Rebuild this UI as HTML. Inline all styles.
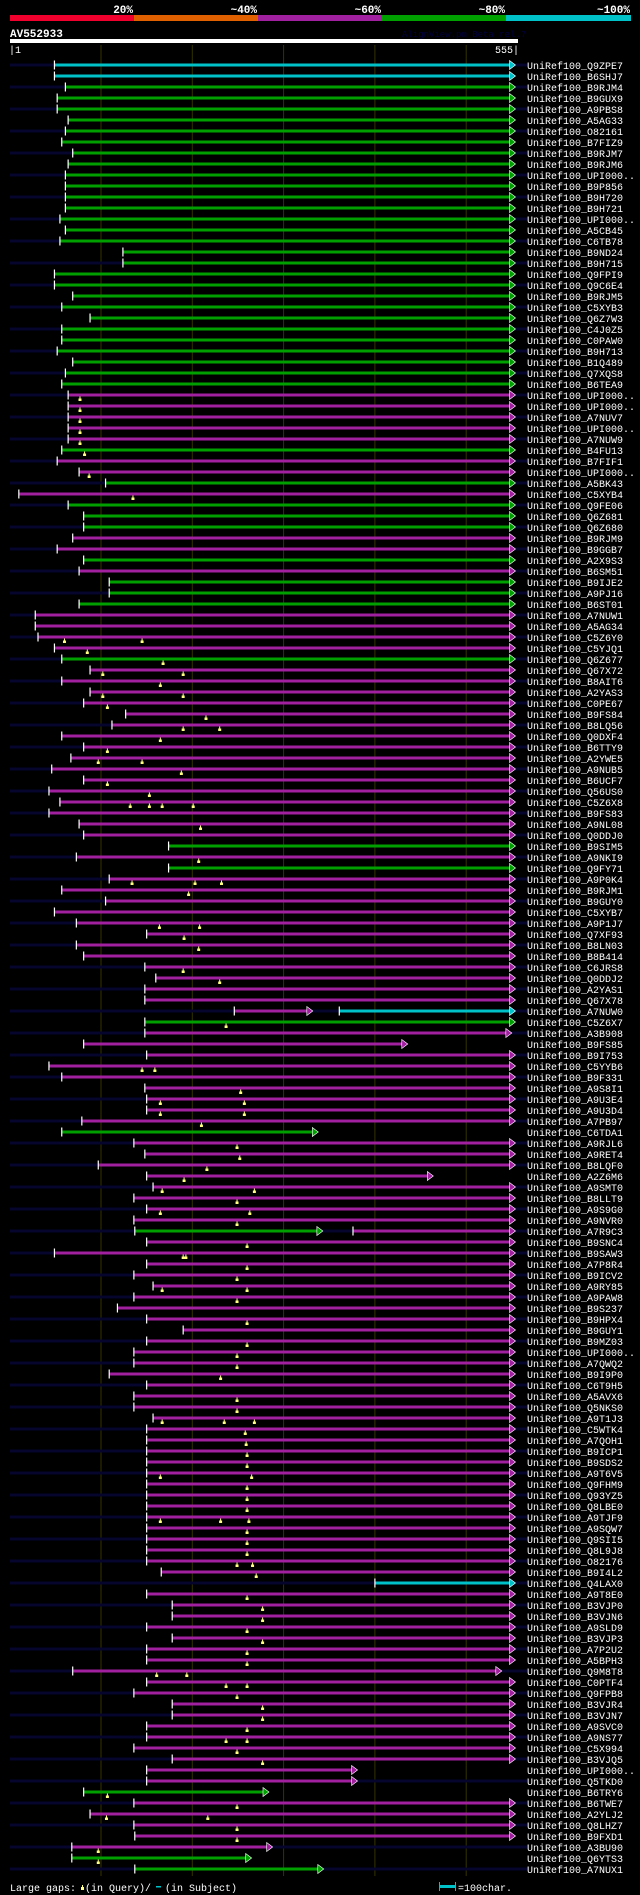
<!DOCTYPE html>
<html><head><meta charset="utf-8"><title>AV552933 alignment</title>
<style>
html,body{margin:0;padding:0;background:#000;}
svg{display:block;}
text{font-family:"Liberation Mono","DejaVu Sans Mono",monospace;}
</style></head>
<body>
<svg id="chart" xmlns="http://www.w3.org/2000/svg" width="640" height="1895" viewBox="0 0 640 1895">
<rect x="0" y="0" width="640" height="1895" fill="#000"/>
<g id="header">
  <rect x="10" y="15" width="124" height="6" fill="#f0002c"/>
  <rect x="134" y="15" width="124" height="6" fill="#e06000"/>
  <rect x="258" y="15" width="124" height="6" fill="#a020a0"/>
  <rect x="382" y="15" width="124" height="6" fill="#00a000"/>
  <rect x="506" y="15" width="125" height="6" fill="#00c0c8"/>
  <text x="133" y="13" fill="#fff" font-size="11" font-weight="bold" text-anchor="end">20%</text>
  <text x="257" y="13" fill="#fff" font-size="11" font-weight="bold" text-anchor="end">~40%</text>
  <text x="381" y="13" fill="#fff" font-size="11" font-weight="bold" text-anchor="end">~60%</text>
  <text x="505" y="13" fill="#fff" font-size="11" font-weight="bold" text-anchor="end">~80%</text>
  <text x="630" y="13" fill="#fff" font-size="11" font-weight="bold" text-anchor="end">~100%</text>
  <text x="10" y="37" fill="#fff" font-size="11" font-weight="bold">AV552933</text>
  <text x="402" y="37" fill="#000040" font-size="9">AlignView.pm Beta rel.7</text>
  <rect x="10" y="39" width="508" height="4" fill="#fff"/>
  <text x="9" y="53" fill="#fff" font-size="10">|1</text>
  <text x="519" y="53" fill="#fff" font-size="10" text-anchor="end">555|</text>
</g>
<g id="grid"></g>
<g id="rows"></g>
<g id="legend">
  <text x="10" y="1891" fill="#fff" font-size="10">Large gaps:</text>
  <rect x="81" y="1887" width="3" height="3" fill="#ffff80"/>
  <rect x="82" y="1885" width="1" height="2" fill="#ffff80"/>
  <text x="85" y="1891" fill="#fff" font-size="10">(in Query)/</text>
  <rect x="156" y="1886" width="5" height="1.5" fill="#00c0c8"/>
  <text x="165" y="1891" fill="#fff" font-size="10">(in Subject)</text>
  <rect x="439" y="1885" width="16" height="3" fill="#00c0c8"/>
  <rect x="439" y="1882" width="1" height="9" fill="#888"/>
  <rect x="455" y="1882" width="1" height="9" fill="#888"/>
  <text x="458" y="1891" fill="#fff" font-size="10">=100char.</text>
</g>
</svg>
<script>
const gridTicks = [100, 200, 300, 400, 500];
const names = ["Q9ZPE7","B6SHJ7","B9RJM4","B9GUX9","A9PBS8","A5AG33","O82161","B7FIZ9","B9RJM7","B9RJM6",
"UPI000..","B9P856","B9H720","B9H721","UPI000..","A5CB45","C6TB78","B9ND24","B9H715","Q9FPI9",
"Q9C6E4","B9RJM5","C5XYB3","Q6Z7W3","C4J0Z5","C0PAW0","B9H713","B1Q489","Q7XQS8","B6TEA9",
"UPI000..","UPI000..","A7NUV7","UPI000..","A7NUW9","B4FU13","B7FIF1","UPI000..","A5BK43","C5XYB4",
"Q9FE06","Q6Z681","Q6Z680","B9RJM9","B9GGB7","A2X9S3","B6SM51","B9IJE2","A9PJ16","B6ST01",
"A7NUW1","A5AG34","C5Z6Y0","C5YJQ1","Q6Z677","Q67X72","B8AIT6","A2YAS3","C0PE67","B9FS84",
"B8LQ56","Q0DXF4","B6TTY9","A2YWE5","A9NUB5","B6UCF7","Q56US0","C5Z6X8","B9FS83","A9NL08",
"Q0DDJ0","B9SIM5","A9NKI9","Q9FY71","A9P0K4","B9RJM1","B9GUY0","C5XYB7","A9P1J7","Q7XF93",
"B8LN03","B8B414","C6JRS8","Q0DDJ2","A2YAS1","Q67X78","A7NUW0","C5Z6X7","A3B908","B9FS85",
"B9I753","C5YYB6","B9F331","A9S8I1","A9U3E4","A9U3D4","A7PB97","C6TDA1","A9RJL6","A9RET4",
"B8LQF0","A2Z6M6","A9SMT0","B8LLT9","A9S9G0","A9NVR0","A7R9C3","B9SNC4","B9SAW3","A7P8R4",
"B9ICV2","A9RY85","A9PAW8","B9S237","B9HPX4","B9GUY1","B9MZ03","UPI000..","A7QWQ2","B9I9P0",
"C6T9H5","A5AVX6","Q5NKS0","A9T1J3","C5WTK4","A7QOH1","B9ICP1","B9SDS2","A9T6V5","Q9FHM9",
"Q93YZ5","Q8LBE0","A9TJF9","A9SQW7","Q9SII5","Q8L9J8","O82176","B9I4L2","Q4LAX0","A9T8E0",
"B3VJP0","B3VJN6","A9SLD9","B3VJP3","A7P2U2","A5BPH3","Q9M8T8","C0PTF4","Q9FPB8","B3VJR4",
"B3VJN7","A9SVC0","A9NS77","C5X994","B3VJQ5","UPI000..","Q5TKD0","B6TRY6","B6TWE7","A2YLJ2",
"Q8LHZ7","B9FXD1","A3BU90","Q6YTS3","A7NUX1"];
const startRes = [49,49,61,52,52,64,61,57,69,64,
61,61,61,61,55,61,55,124,124,49,
49,69,57,88,57,57,52,69,61,57,
64,64,64,64,64,57,52,76,105,10,
64,81,81,69,52,81,76,109,109,76,
28,28,31,49,57,88,57,88,81,127,
112,57,81,67,46,81,43,55,43,76,
81,174,73,174,109,57,105,49,73,150,
73,81,148,160,148,148,246,148,148,81,
150,43,57,148,150,150,79,57,136,148,
97,150,157,136,150,136,137,150,49,150,
136,157,136,118,150,190,150,136,136,109,
150,136,136,157,150,150,150,150,150,150,
150,150,150,150,150,150,150,166,400,150,
178,178,150,178,150,150,69,150,136,178,
178,150,150,136,178,150,150,81,136,88,
136,137,68,68,137];
const fullEnd = 554;
const endOverrides = {87:332, 89:550, 90:436, 98:338, 102:464, 107:343, 147:539, 156:381, 157:381, 158:284, 163:288, 164:265, 165:344};
const colorRuns = [["c",2],["g",28],["m",5],["g",1],["m",2],["g",1],["m",1],["g",3],["m",2],["g",1],["m",1],["g",3],["m",4],["g",1],["m",16],["g",1],["m",1],["g",1],["m",13],["g",1],["m",9],["g",1],["m",8],["g",1],["m",31],["c",1],["m",18],["g",1],["m",5],["g",2]];
const secondSegments = {87:[361,554,"c"], 107:[376,554,"m"]};
const queryGaps = {31:[77],32:[77],33:[77],34:[77],35:[77],36:[82],38:[87],40:[135],53:[60,145],54:[85],
55:[168],56:[102,190],57:[165],58:[102,190],59:[107],60:[215],61:[190,230],62:[165],63:[107],64:[97,145],
65:[188],66:[107],67:[153],68:[132,153,167,201],70:[209],73:[207],75:[134,203,232],76:[196],79:[164,208],80:[191],
81:[207],83:[190],84:[230],88:[237],92:[145,159],94:[253],95:[165,257],96:[165,257],97:[210],99:[249],
100:[252],101:[216],102:[191],103:[167,268],104:[249],105:[165,263],106:[249],108:[260],109:[190,193],110:[260],
111:[249],112:[167,260],113:[249],115:[260],117:[260],118:[249],119:[249],120:[231],122:[249],123:[249],
124:[167,235,268],125:[258],126:[259],127:[260],128:[260],129:[165,265],130:[260],131:[260],132:[260],133:[165,231,262],
134:[260],135:[260],136:[260],137:[249,266],138:[270],140:[260],141:[277],142:[277],143:[260],144:[277],
145:[260],146:[260],147:[161,194],148:[237,260],149:[249],150:[277],151:[277],152:[260],153:[237,260],154:[249],
155:[277],158:[107],159:[249],160:[106,217],161:[249],162:[249],163:[97],164:[97]};

const NS = "http://www.w3.org/2000/svg";
const palette = {c:"#00c0c8", g:"#00a000", m:"#a020a0"};
function xScale(res){ return 9.7 + res * 0.913; }
function yRow(i){ return 65 + i * 11; }
function mk(tag, attrs, parent){
  const el = document.createElementNS(NS, tag);
  for (const k in attrs) el.setAttribute(k, attrs[k]);
  parent.appendChild(el);
  return el;
}
const colors = [];
colorRuns.forEach(function(r){ for (let k = 0; k < r[1]; k++) colors.push(r[0]); });

const grid = document.getElementById('grid');
gridTicks.forEach(function(t){
  const l = mk('rect', {x: xScale(t) - 0.5, y: 45, width: 1, height: 1831, fill: '#333300'}, grid);
  
  
});

const rowsG = document.getElementById('rows');
function drawSeg(g, s, e, col, y){
  const xs = xScale(s), xe = xScale(e);
  const bar = mk('rect', {x: xs, y: y - 1.5, width: Math.max(0, xe - 6 - xs), height: 3, fill: palette[col]}, g);
  
  
  const arrow = mk('polygon', {points: (xe-6)+','+(y-4.5)+' '+xe+','+y+' '+(xe-6)+','+(y+4.5), fill: palette[col], stroke: '#fff', 'stroke-width': 0.6}, g);
  
  
  const tick = mk('rect', {x: xs - 0.6, y: y - 4.5, width: 1.2, height: 9, fill: '#fff'}, g);
  
  
}
names.forEach(function(nm, i){
  const r = i + 1;
  const y = yRow(i);
  const g = mk('g', {}, rowsG);
  
  
  if (i % 2 === 0) {
    const bg = mk('rect', {x: 10, y: y - 1.5, width: 517, height: 3, fill: '#05052e'}, g);
    
    
  }
  const e = endOverrides[r] !== undefined ? endOverrides[r] : fullEnd;
  drawSeg(g, startRes[i], e, colors[i], y);
  if (secondSegments[r]) {
    const sg = secondSegments[r];
    drawSeg(g, sg[0], sg[1], sg[2], y);
  }
  (queryGaps[r] || []).forEach(function(q){
    const qx = xScale(q);
    const m1 = mk('rect', {x: qx - 1.5, y: y + 3.5, width: 3, height: 2.5, fill: '#ffff80'}, g);
    
    
    const m2 = mk('rect', {x: qx - 0.5, y: y + 1.5, width: 1, height: 2, fill: '#ffff80'}, g);
    
    
  });
  const t = mk('text', {x: 527, y: y + 4, fill: '#fff', 'font-size': 10}, g);
  
  
  t.textContent = 'UniRef100_' + nm;
});
</script>
</body></html>
